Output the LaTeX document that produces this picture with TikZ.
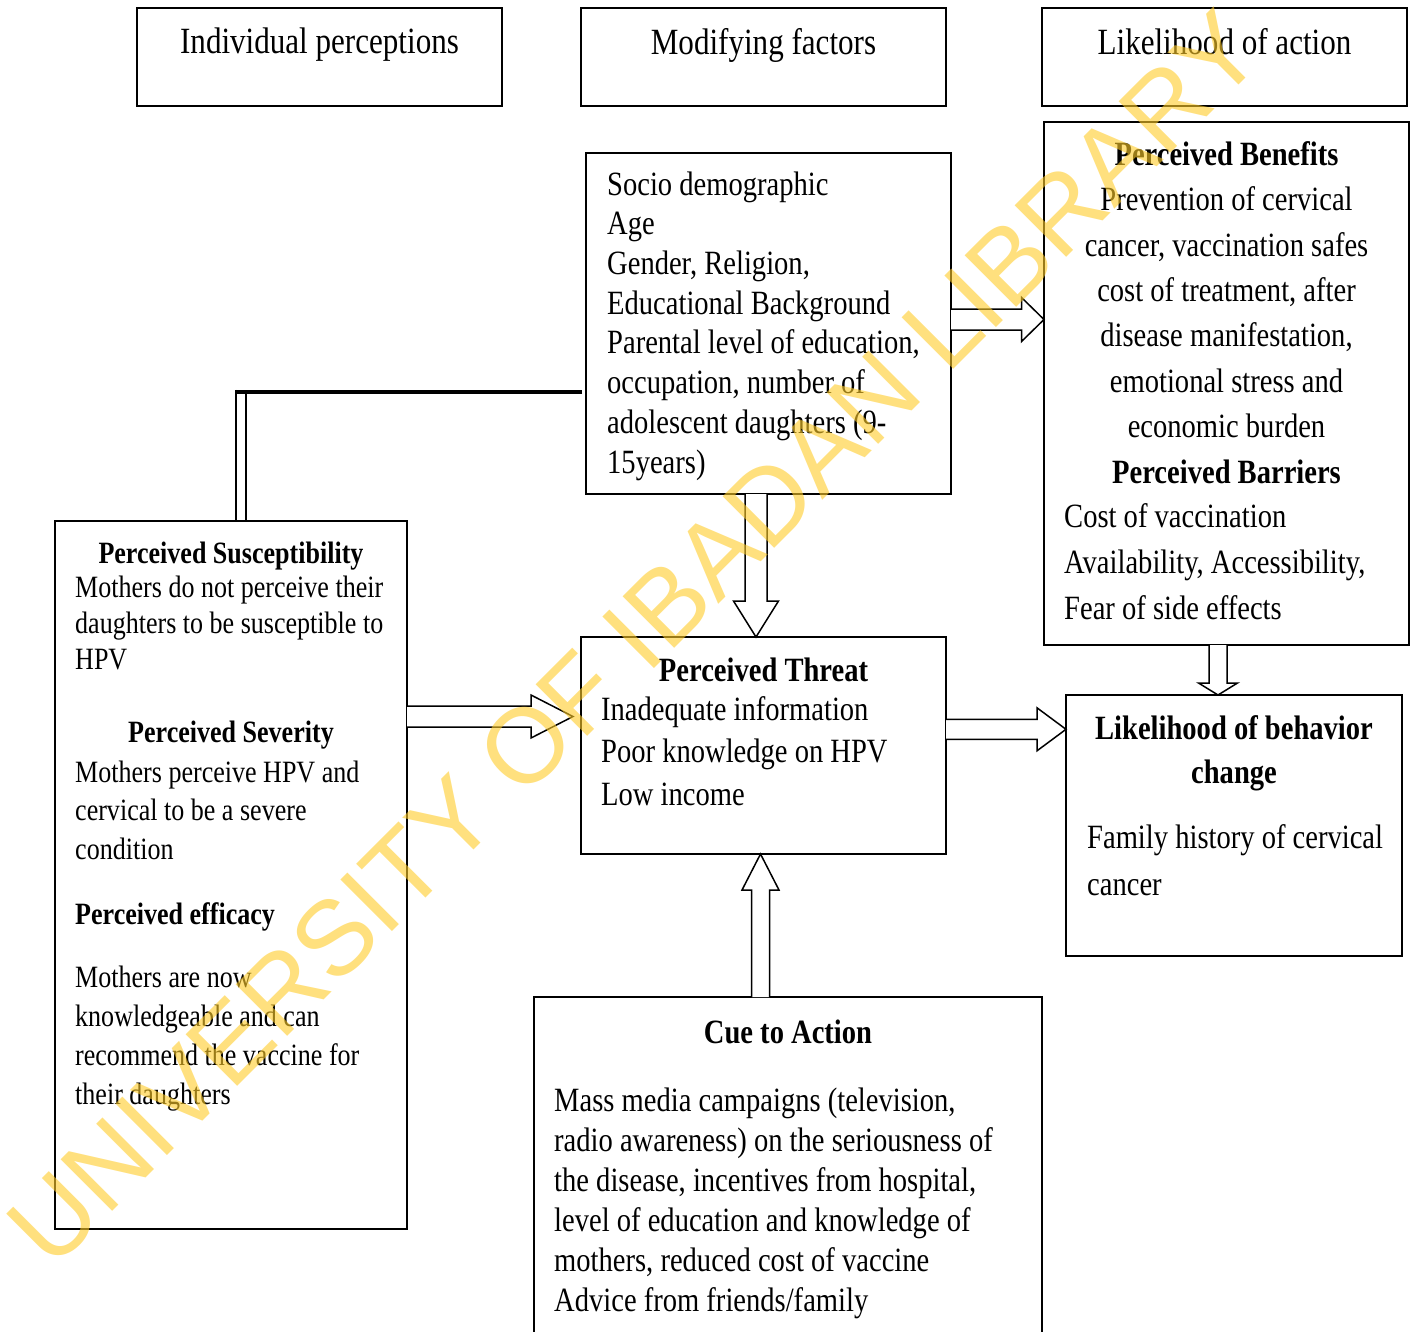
\documentclass[tikz,border=0pt]{standalone}
\usepackage{fontspec}
\setmainfont{Liberation Serif}[FakeStretch=0.84]
\newfontfamily\wmfont{Liberation Sans}
\usetikzlibrary{calc}
\definecolor{wmyellow}{RGB}{255,204,40}

\newcommand\rarrowblk[5]{\draw[blk] let \p1=(#1), \p2=(#2) in (\x1,\y1+#3) -- (\x2-#5,\y1+#3) -- (\x2-#5,\y1+#4) -- (\x2,\y1) -- (\x2-#5,\y1-#4) -- (\x2-#5,\y1-#3) -- (\x1,\y1-#3);}
\newcommand\darrowblk[5]{\draw[blk] let \p1=(#1), \p2=(#2) in (\x2-#3,\y1) -- (\x2-#3,\y2+#5) -- (\x2-#4,\y2+#5) -- (\x2,\y2) -- (\x2+#4,\y2+#5) -- (\x2+#3,\y2+#5) -- (\x2+#3,\y1);}
\newcommand\uarrowblk[5]{\draw[blk] let \p1=(#1), \p2=(#2) in (\x2-#3,\y1) -- (\x2-#3,\y2-#5) -- (\x2-#4,\y2-#5) -- (\x2,\y2) -- (\x2+#4,\y2-#5) -- (\x2+#3,\y2-#5) -- (\x2+#3,\y1);}

\tikzset{
  box/.style={draw, line width=1.7pt, inner sep=0pt, outer sep=0pt, anchor=north west},
  ltxt/.style={inner sep=0pt, anchor=base west, align=left},
  ctxt/.style={inner sep=0pt, anchor=base, align=center},
  blk/.style={draw, line width=1.5pt, fill=white, line join=miter},
  conn/.style={line width=1.5pt},
}

\begin{document}
\begin{tikzpicture}[x=1pt, y=-1pt]
\useasboundingbox[fill=white] (0,0) rectangle (1411,1331);

% header boxes
\node[box, minimum width=365pt, minimum height=98pt] (hind) at (137,8) {};
\node[box, minimum width=365pt, minimum height=98pt] (hmod) at (581,8) {};
\node[box, minimum width=365pt, minimum height=98pt] (hlik) at (1042,8) {};
\node[ctxt, font=\fontsize{37}{44}\selectfont] (thind) at (319.5,53.5) {Individual perceptions};
\node[ctxt, font=\fontsize{37}{44}\selectfont] (thmod) at (763.5,54) {Modifying factors};
\node[ctxt, font=\fontsize{37}{44}\selectfont] (thlik) at (1224.5,54.5) {Likelihood of action};

% main boxes
\node[box, minimum width=365pt, minimum height=341pt] (socio) at (586,153) {};
\node[box, minimum width=365pt, minimum height=523pt] (ben) at (1044,122) {};
\node[box, minimum width=352pt, minimum height=708pt] (lb) at (55,521) {};
\node[box, minimum width=365pt, minimum height=217pt] (thr) at (581,637) {};
\node[box, minimum width=336pt, minimum height=261pt] (lik) at (1066,695) {};
\node[box, minimum width=508pt, minimum height=420pt] (cue) at (534,997) {};

% socio text (base anchor = last line)
\node[ltxt, font=\fontsize{34}{39.7}\selectfont] (tsocio) at (607,473) {Socio demographic\\Age\\Gender, Religion,\\Educational Background\\Parental level of education,\\occupation, number of\\adolescent daughters (9-\\15years)};

% benefits / barriers
\node[ctxt, font=\fontsize{34}{45.4}\selectfont] (tben) at (1226.5,483) {\textbf{Perceived Benefits}\\Prevention of cervical\\cancer, vaccination safes\\cost of treatment, after\\disease manifestation,\\emotional stress and\\economic burden\\\textbf{Perceived Barriers}};
\node[ltxt, font=\fontsize{34}{45.8}\selectfont] (tbar) at (1064,619.5) {Cost of vaccination\\Availability, Accessibility,\\Fear of side effects};

% left box
\node[ctxt, font=\bfseries\fontsize{31}{36}\selectfont] (tsus) at (231,563) {Perceived Susceptibility};
\node[ltxt, font=\fontsize{31}{36}\selectfont] (tsusb) at (75,669) {Mothers do not perceive their\\daughters to be susceptible to\\HPV};
\node[ctxt, font=\bfseries\fontsize{31}{36}\selectfont] (tsev) at (231,742) {Perceived Severity};
\node[ltxt, font=\fontsize{31}{38.5}\selectfont] (tsevb) at (75,859) {Mothers perceive HPV and\\cervical to be a severe\\condition};
\node[ltxt, font=\bfseries\fontsize{31}{36}\selectfont] (teff) at (75,924) {Perceived efficacy};
\node[ltxt, font=\fontsize{31}{39}\selectfont] (teffb) at (75,1104) {Mothers are now\\knowledgeable and can\\recommend the vaccine for\\their daughters};

% threat
\node[ctxt, font=\bfseries\fontsize{34}{42}\selectfont] (tthr) at (763.5,681) {Perceived Threat};
\node[ltxt, font=\fontsize{34}{42.5}\selectfont] (tthrb) at (601,805) {Inadequate information\\Poor knowledge on HPV\\Low income};

% likelihood of behaviour change
\node[ctxt, font=\bfseries\fontsize{34}{44}\selectfont] (tlik) at (1234,783) {Likelihood of behavior\\change};
\node[ltxt, font=\fontsize{34}{47}\selectfont] (tlikb) at (1087,895) {Family history of cervical\\cancer};

% cue to action
\node[ctxt, font=\bfseries\fontsize{34}{40}\selectfont] (tcue) at (788,1043) {Cue to Action};
\node[ltxt, font=\fontsize{34}{40}\selectfont] (tcueb) at (554,1311) {Mass media campaigns (television,\\radio awareness) on the seriousness of\\the disease, incentives from hospital,\\level of education and knowledge of\\mothers, reduced cost of vaccine\\Advice from friends/family};

% socio -> left box connector
\coordinate (c1) at ($(socio.north west)+(-4,238.8)$);
\coordinate (c2) at ($(lb.north west)+(180,-129.2)$);
\draw[line width=4.5pt] (c1) -- (c2);
\draw[conn] ($(c2)+(0.75,-2)$) -- ($(c2 |- lb.north)+(0.75,0)$);
\draw[conn] ($(c2)+(11,2)$) -- ($(c2 |- lb.north)+(11,0)$);

% block arrows
\coordinate (a1s) at ($(lb.north east)+(0,195.5)$);
\coordinate (a1e) at ($(thr.north west)+(-8,79.5)$);
\rarrowblk{a1s}{a1e}{10.5pt}{21.5pt}{42pt}
\coordinate (a2s) at ($(socio.north east)+(0,166.5)$);
\coordinate (a2e) at ($(ben.north west)+(0,197.5)$);
\rarrowblk{a2s}{a2e}{10.5pt}{22pt}{22.5pt}
\coordinate (a3s) at ($(socio.south west)+(170,0)$);
\coordinate (a3e) at ($(thr.north west)+(175,0)$);
\darrowblk{a3s}{a3e}{11pt}{22.5pt}{36pt}
\coordinate (a4s) at ($(cue.north west)+(226.5,0)$);
\coordinate (a4e) at ($(thr.south west)+(179.5,0)$);
\uarrowblk{a4s}{a4e}{9pt}{18.5pt}{36pt}
\coordinate (a5s) at ($(thr.north east)+(0,92.3)$);
\coordinate (a5e) at ($(lik.north west)+(0,34.3)$);
\rarrowblk{a5s}{a5e}{10pt}{21.5pt}{29pt}
\coordinate (a6s) at ($(ben.south west)+(174,0)$);
\coordinate (a6e) at ($(lik.north west)+(152,0)$);
\darrowblk{a6s}{a6e}{9pt}{19.5pt}{12pt}

% watermark
\node[rotate=45, text=wmyellow, text opacity=0.6, inner sep=0pt, font=\wmfont\fontsize{106}{106}\selectfont] (wm) at (634,638) {UNIVERSITY OF IBADAN LIBRARY};
\end{tikzpicture}
\end{document}
